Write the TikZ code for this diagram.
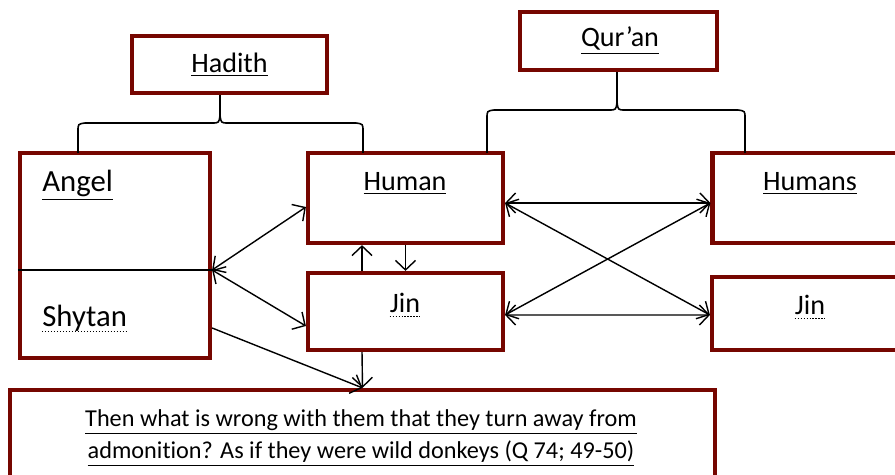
\documentclass[tikz,border=0pt]{standalone}
\usepackage{fontspec}
\setmainfont{Carlito}[Ligatures=NoCommon]
\usetikzlibrary{arrows.meta}
\definecolor{boxred}{RGB}{118,6,0}
\tikzset{
  box/.style={draw=boxred, line width=2.4pt, rectangle, inner sep=0pt},
  lbl/.style={font=\fontsize{16}{19}\selectfont, anchor=base, inner sep=0pt},
  notelbl/.style={font=\fontsize{13.8}{16}\selectfont, anchor=base, inner sep=0pt},
  brace/.style={black, line width=0.9pt},
  link/.style={black, line width=0.8pt},
  dotline/.style={black, line width=0.7pt, densely dotted},
}
\begin{document}
\begin{tikzpicture}[x=0.02cm,y=-0.02cm,>={Straight Barb[length=1.9mm,width=4mm]}]
  \useasboundingbox (0,0) rectangle (895,475);
  \clip (0,0) rectangle (895,475);
  % boxes
  \node[box, minimum width=3.9cm, minimum height=1.14cm] (hadith) at (229.5,64.5) {};
  \node[box, minimum width=3.94cm, minimum height=1.16cm] (quran) at (618.5,41) {};
  \node[box, minimum width=3.8cm, minimum height=4.1cm] (angel) at (115,255.5) {};
  \node[box, minimum width=3.9cm, minimum height=1.8cm] (human) at (405.5,198) {};
  \node[box, minimum width=3.9cm, minimum height=1.54cm] (jin) at (405.5,311.5) {};
  \node[box, minimum width=3.96cm, minimum height=1.8cm] (humans) at (811.5,198) {};
  \node[box, minimum width=3.94cm, minimum height=1.46cm] (jinr) at (810.5,313.5) {};
  \node[box, minimum width=14.1cm, minimum height=2cm] (note) at (362.5,440) {};
  % texts
  \node[lbl] (hadithtxt) at (229.5,73) {\underline{Hadith}};
  \node[lbl] (qurantxt) at (620,47) {\underline{Qur’an}};
  \node[lbl, anchor=base west, font=\fontsize{17.5}{20}\selectfont] (angeltxt) at (42,192) {\underline{Angel}};
  \node[lbl, anchor=base west, font=\fontsize{17.5}{20}\selectfont] (shytantxt) at (42,327) {Shytan};
  \draw[dotline] ([yshift=-2.4pt]shytantxt.base west) -- ([yshift=-2.4pt]shytantxt.base east);
  \node[lbl] (humantxt) at (405,191) {\underline{Human}};
  \node[lbl] (jintxt) at (405,313) {Jin};
  \node[lbl] (humanstxt) at (810,191) {\underline{Humans}};
  \node[lbl] (jinrtxt) at (810,315) {Jin};
  \draw[dotline] ([yshift=-2.2pt]jintxt.base west) -- ([yshift=-2.2pt]jintxt.base east);
  \draw[dotline] ([yshift=-2.2pt]jinrtxt.base west) -- ([yshift=-2.2pt]jinrtxt.base east);
  \node[notelbl] (notea) at (361,427) {\underline{Then what is wrong with them that they turn away from}};
  \node[notelbl] (noteb) at (361,459) {\underline{admonition? As if they were wild donkeys (Q 74; 49-50)}};
  % braces
  \coordinate (hcusp) at (220,115);
  \coordinate (qcusp) at (617,102);
  \draw[brace] (78,153) -- (78,131) .. controls (78,124) .. (85,123) -- (212,123)
    .. controls (219,123) .. (hcusp) .. controls (221,123) .. (228,123) -- (356,123)
    .. controls (363,124) .. (363,131) -- (363,153);
  \draw[brace] (hcusp) -- (hcusp |- hadith.south);
  \draw[brace] (487,153) -- (487,118) .. controls (487,111) .. (494,110) -- (609,110)
    .. controls (616,110) .. (qcusp) .. controls (618,110) .. (625,110) -- (738,110)
    .. controls (745,111) .. (745,118) -- (745,153);
  \draw[brace] (qcusp) -- (qcusp |- quran.south);
  % divider in angel box
  \coordinate (split) at ([yshift=-0.29cm]angel.east);
  \draw[link] (split -| angel.west) -- ([xshift=0.1cm]split);
  % arrows
  \draw[link,<->] (split) -- ([yshift=-0.18cm]human.west);
  \draw[link,<->] (split) -- ([yshift=-0.29cm]jin.west);
  \draw[link,->] (human.south) -- (jin.north);
  \draw[link,->] ([xshift=-0.87cm]jin.north) -- ([xshift=-0.87cm]human.south);
  \draw[link,->] ([xshift=-0.87cm]jin.south) -- (note.north);
  \draw[link,->] ([yshift=-1.45cm]angel.east) -- (note.north);
  \coordinate (hr) at ([yshift=-0.1cm]human.east);
  \coordinate (jr) at ([yshift=-0.07cm]jin.east);
  \coordinate (hl) at ([yshift=-0.1cm]humans.west);
  \coordinate (jl) at ([yshift=-0.03cm]jinr.west);
  \draw[link,<->] (hr) -- (hl);
  \draw[link,<->] (hr) -- (jl);
  \draw[link,<->] (jr) -- (hl);
  \draw[link,<->] (jr) -- (jl);
\end{tikzpicture}
\end{document}
